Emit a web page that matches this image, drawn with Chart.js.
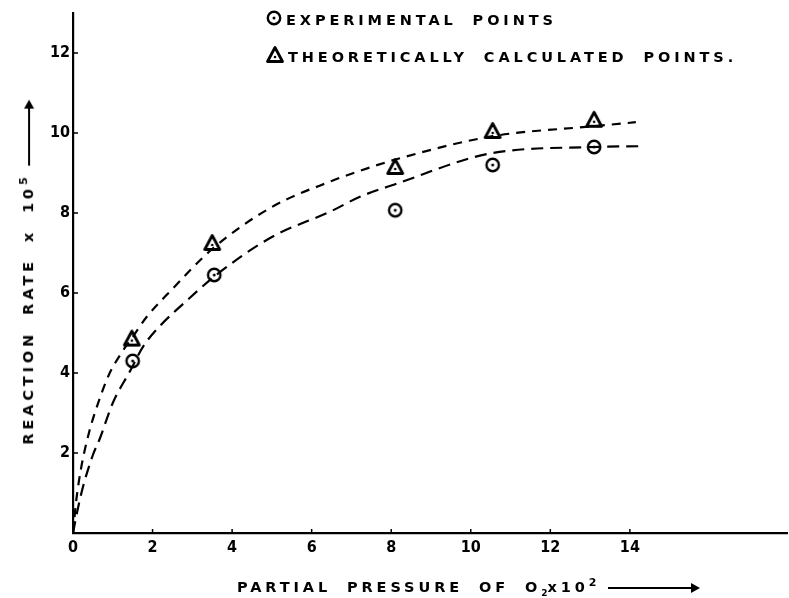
<!DOCTYPE html>
<html>
<head>
<meta charset="utf-8">
<script src="https://cdn.jsdelivr.net/npm/chart.js@4/dist/chart.umd.min.js"></script>
<style>
  html, body { margin: 0; padding: 0; background: #fff; }
  #wrap { position: relative; width: 789px; height: 598px; overflow: hidden; background: #fff; }
  #c { position: absolute; left: 0; top: 0; }
  .t { position: absolute; font-family: 'DejaVu Sans', sans-serif; font-weight: bold; color: #000;
       white-space: nowrap; letter-spacing: 3.9px; word-spacing: 7px; font-size: 14.5px; line-height: 16px; }
  .arrow { display: inline-block; position: relative; height: 2px; background: #000; vertical-align: middle; margin-left: 12px; }
  .arrow::after { content: ''; position: absolute; right: -4px; top: -4px; border-left: 9px solid #000;
       border-top: 5px solid transparent; border-bottom: 5px solid transparent; }
  .mk { display: inline-block; vertical-align: middle; margin-right: 3px; position: relative; top: -1px; }
</style>
</head>
<body>
<div id="wrap">
  <canvas id="c" width="789" height="598"></canvas>
  <div class="t" id="leg1" style="left:265px; top:10px;"><span class="mk" id="m1"></span>EXPERIMENTAL POINTS</div>
  <div class="t" id="leg2" style="left:265px; top:46px;"><span class="mk" id="m2"></span>THEORETICALLY CALCULATED POINTS.</div>
  <div class="t" id="xt" style="left:237px; top:575px;">PARTIAL PRESSURE OF O<sub style="font-size:9px;letter-spacing:0">2</sub>x10<sup style="font-size:11px;letter-spacing:0">2</sup><span class="arrow" style="width:88px"></span></div>
  <div class="t" id="yt" style="left:26px; top:274px; transform: translate(-50%,-50%) rotate(-90deg);">REACTION RATE x 10<sup style="font-size:11px;letter-spacing:0">5</sup><span class="arrow" style="width:62px"></span></div>
</div>
<script>
// ---- data ----
const expX   = [1.5, 3.55, 8.1, 10.55, 13.1];
const expY   = [4.3, 6.45, 8.07, 9.2, 9.65];
const theoX  = [1.48, 3.5, 8.1, 10.55, 13.1];
const theoY  = [4.86, 7.25, 9.15, 10.05, 10.33];
const upperX = [0, 0.08, 0.2, 0.4, 0.65, 0.9, 1.25, 1.5, 1.85, 2.45, 3.5, 5, 6.5, 7.2, 8.15, 10.55, 13.1, 14.15];
const upperY = [0, 0.8, 1.6, 2.5, 3.3, 3.95, 4.55, 4.9, 5.4, 6.05, 7.1, 8.15, 8.8, 9.05, 9.35, 9.92, 10.17, 10.27];
const lowerX = [0, 0.12, 0.25, 0.5, 0.67, 1.0, 1.43, 1.77, 2.18, 2.85, 3.6, 5, 6.5, 7.2, 8.1, 10.55, 13.1, 14.25];
const lowerY = [0, 0.6, 1.15, 1.95, 2.35, 3.25, 4.04, 4.67, 5.17, 5.8, 6.45, 7.4, 8.05, 8.4, 8.72, 9.5, 9.65, 9.67];
const xTickValues = [0, 2, 4, 6, 8, 10, 12, 14];
const yTickValues = [2, 4, 6, 8, 10, 12];
const X_MAX = 17.95;
const Y_MAX = 13;

const pts = (xs, ys) => xs.map((x, i) => ({ x: x, y: ys[i] }));

function circleMarker() {
  const c = document.createElement('canvas'); c.width = 18; c.height = 18;
  const g = c.getContext('2d');
  g.strokeStyle = '#000'; g.lineWidth = 2.4; g.fillStyle = '#fff';
  g.beginPath(); g.arc(9, 9, 6.2, 0, Math.PI * 2); g.fill(); g.stroke();
  g.fillStyle = '#000'; g.beginPath(); g.arc(9, 9, 1.5, 0, Math.PI * 2); g.fill();
  return c;
}
function triMarker() {
  const c = document.createElement('canvas'); c.width = 20; c.height = 20;
  const g = c.getContext('2d');
  g.strokeStyle = '#000'; g.lineWidth = 2.8; g.lineJoin = 'round'; g.fillStyle = '#fff';
  g.beginPath(); g.moveTo(10, 2.5); g.lineTo(17.5, 16.5); g.lineTo(2.5, 16.5); g.closePath(); g.fill(); g.stroke();
  g.fillStyle = '#000'; g.beginPath(); g.arc(10, 12, 1.3, 0, Math.PI * 2); g.fill();
  return c;
}
document.getElementById('m1').appendChild(circleMarker());
document.getElementById('m2').appendChild(triMarker());

const innerTicks = {
  id: 'innerTicks',
  afterDraw(chart) {
    const ctx = chart.ctx, xs = chart.scales.x, ys = chart.scales.y, a = chart.chartArea;
    ctx.save(); ctx.strokeStyle = '#000'; ctx.lineWidth = 1.5;
    xTickValues.forEach(v => { if (v === 0) return; const p = xs.getPixelForValue(v);
      ctx.beginPath(); ctx.moveTo(p, a.bottom); ctx.lineTo(p, a.bottom - 4); ctx.stroke(); });
    yTickValues.forEach(v => { const p = ys.getPixelForValue(v);
      ctx.beginPath(); ctx.moveTo(a.left, p); ctx.lineTo(a.left + 5, p); ctx.stroke(); });
    ctx.restore();
  }
};

new Chart(document.getElementById('c'), {
  type: 'scatter',
  data: {
    datasets: [
      { label: 'upper', data: pts(upperX, upperY), showLine: true, pointRadius: 0, borderColor: '#000',
        borderWidth: 2.2, borderDash: [9, 7], cubicInterpolationMode: 'monotone', fill: false },
      { label: 'lower', data: pts(lowerX, lowerY), showLine: true, pointRadius: 0, borderColor: '#000',
        borderWidth: 2.2, borderDash: [12, 7], cubicInterpolationMode: 'monotone', fill: false },
      { label: 'EXPERIMENTAL POINTS', data: pts(expX, expY), pointStyle: circleMarker(), pointRadius: 9 },
      { label: 'THEORETICALLY CALCULATED POINTS.', data: pts(theoX, theoY), pointStyle: triMarker(), pointRadius: 10 }
    ]
  },
  options: {
    responsive: false, animation: false,
    layout: { autoPadding: false, padding: { top: 13, right: 2, left: 0, bottom: 0 } },
    plugins: { legend: { display: false }, tooltip: { enabled: false } },
    scales: {
      x: {
        type: 'linear', min: 0, max: X_MAX,
        afterFit: s => { s.height = 65; s.paddingLeft = 0; s.paddingRight = 0; },
        grid: { display: false, drawTicks: false },
        border: { display: true, color: '#000', width: 2.2 },
        afterBuildTicks: s => { s.ticks = xTickValues.map(v => ({ value: v })).concat([{ value: X_MAX }]); },
        ticks: { padding: 5, color: '#000', font: { family: 'DejaVu Sans Condensed', weight: 'bold', size: 16 },
                 callback: v => (v > 14 ? '' : String(v)), maxRotation: 0, autoSkip: false }
      },
      y: {
        type: 'linear', min: 0, max: Y_MAX,
        afterFit: s => { s.width = 73; s.paddingTop = 0; s.paddingBottom = 0; },
        grid: { display: false, drawTicks: false },
        border: { display: true, color: '#000', width: 2.2 },
        afterBuildTicks: s => { s.ticks = yTickValues.map(v => ({ value: v })); },
        ticks: { padding: 3, color: '#000', font: { family: 'DejaVu Sans Condensed', weight: 'bold', size: 16 },
                 callback: v => String(v), autoSkip: false }
      }
    }
  },
  plugins: [innerTicks]
});
</script>
</body>
</html>
